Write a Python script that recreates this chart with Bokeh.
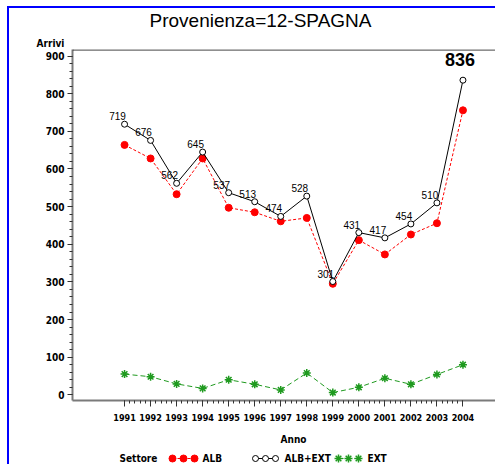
from bokeh.plotting import figure
from bokeh.models import Range1d, FixedTicker, LinearAxis, ColumnDataSource, Span
from bokeh.layouts import column
from bokeh.core.properties import value
from bokeh.embed import file_html
from bokeh.resources import INLINE

years = [1991, 1992, 1993, 1994, 1995, 1996, 1997, 1998, 1999, 2000, 2001, 2002, 2003, 2004]
alb_ext = [719, 676, 562, 645, 537, 513, 474, 528, 301, 431, 417, 454, 510, 836]
alb = [664, 628, 533, 628, 497, 485, 461, 470, 295, 411, 373, 426, 456, 756]
ext = [55, 48, 29, 17, 40, 28, 13, 58, 6, 20, 44, 28, 54, 80]
y_ticks = [0, 100, 200, 300, 400, 500, 600, 700, 800, 900]
title_text = "Provenienza=12-SPAGNA"
y_label = "Arrivi"
x_label = "Anno"
legend_title = "Settore"
series_names = ["ALB", "ALB+EXT", "EXT"]

COND = "DejaVu Sans Condensed"
SANS = "Liberation Sans"
RED = "#ff0000"
GREEN = "#1f9a1f"
AXIS = "#7a7a7a"

# ---------------- header strip (page-pixel coordinates) ----------------
hd = figure(width=486, height=41, output_backend="svg", toolbar_location=None,
            x_range=Range1d(9, 495), y_range=Range1d(49, 8),
            min_border=0, x_axis_type=None, y_axis_type=None)
hd.frame_align = False
hd.outline_line_color = None
hd.xgrid.visible = False
hd.ygrid.visible = False
hd.text(x=[260], y=[20], text=[title_text], text_align="center", text_baseline="middle",
        text_font=value(SANS), text_font_size="19px", text_color="black")
hd.text(x=[50], y=[48.7], text=[y_label], text_align="center", text_baseline="bottom",
        text_font=value(COND), text_font_style="bold", text_font_size="10px", text_color="black")

# ---------------- main plot ----------------
p = figure(width=486, height=381, output_backend="svg", toolbar_location=None,
           x_range=Range1d(1989.0, 2005.25), y_range=Range1d(-15.1, 917.5),
           min_border_left=63, min_border_top=0, min_border_bottom=30,
           min_border_right=0, x_axis_type=None, y_axis_type=None)
p.frame_align = False
p.outline_line_color = None

minor_x = [1991 + i * 0.2 for i in range(0, 66)]
xaxis = LinearAxis(ticker=FixedTicker(ticks=years, minor_ticks=minor_x))
xaxis.axis_line_color = AXIS
xaxis.axis_line_width = 2
xaxis.major_tick_line_color = "#333333"
xaxis.minor_tick_line_color = "#333333"
xaxis.major_tick_out = 6
xaxis.major_tick_in = 0
xaxis.minor_tick_out = 3
xaxis.minor_tick_in = 0
xaxis.major_label_text_font = COND
xaxis.major_label_text_font_style = "bold"
xaxis.major_label_text_font_size = "9px"
xaxis.major_label_text_color = "black"
xaxis.major_label_standoff = 7
p.add_layout(xaxis, "below")

minor_y = list(range(0, 901, 20))
yaxis = LinearAxis(ticker=FixedTicker(ticks=y_ticks, minor_ticks=minor_y))
yaxis.axis_line_color = AXIS
yaxis.axis_line_width = 2
yaxis.major_tick_line_color = "#333333"
yaxis.minor_tick_line_color = "#333333"
yaxis.major_tick_out = 5
yaxis.major_tick_in = 0
yaxis.minor_tick_out = 3
yaxis.minor_tick_in = 0
yaxis.major_label_text_font = COND
yaxis.major_label_text_font_style = "bold"
yaxis.major_label_text_font_size = "10px"
yaxis.major_label_text_color = "black"
yaxis.major_label_standoff = 3
p.add_layout(yaxis, "left")

p.add_layout(Span(location=916.3, dimension="width", line_color="black", line_width=1))

p.ygrid.ticker = FixedTicker(ticks=y_ticks)
p.xgrid.visible = False
p.ygrid.grid_line_color = "black"
p.ygrid.grid_line_dash = "1 7"
p.ygrid.grid_line_width = 1

src = ColumnDataSource(dict(x=years, alb=alb, tot=alb_ext, ext=ext))

p.line("x", "ext", source=src, line_color=GREEN, line_dash="5 3", line_width=1)
p.scatter("x", "ext", source=src, marker="asterisk", size=8, line_color=GREEN, line_width=1.5)
p.line("x", "alb", source=src, line_color=RED, line_dash="3 2", line_width=1)
p.scatter("x", "alb", source=src, marker="circle", size=7, fill_color=RED, line_color=RED)
p.line("x", "tot", source=src, line_color="black", line_width=1)
p.scatter("x", "tot", source=src, marker="circle", size=6, fill_color="white",
          line_color="black", line_width=1)

imax = alb_ext.index(max(alb_ext))
idx = [i for i in range(len(years)) if i != imax]
small = dict(x=[years[i] for i in idx], y=[alb_ext[i] for i in idx],
             t=[str(alb_ext[i]) for i in idx])
p.text("x", "y", "t", source=ColumnDataSource(small), x_offset=-7, y_offset=-8,
       text_align="center", text_baseline="middle", text_font=value(SANS),
       text_font_size="10px", text_color="black")
p.text(x=[years[imax]], y=[alb_ext[imax]], text=[str(alb_ext[imax])], x_offset=-3, y_offset=-21,
       text_align="center", text_baseline="middle", text_font=value(SANS),
       text_font_style="bold", text_font_size="18px", text_color="black")

# ---------------- footer strip: axis title + legend (page-pixel coordinates) ----------------
ft = figure(width=486, height=34, output_backend="svg", toolbar_location=None,
            x_range=Range1d(9, 495), y_range=Range1d(464, 430),
            min_border=0, x_axis_type=None, y_axis_type=None)
ft.frame_align = False
ft.outline_line_color = None
ft.xgrid.visible = False
ft.ygrid.visible = False
ft.text(x=[293], y=[439], text=[x_label], text_align="center", text_baseline="middle",
        text_font=value(COND), text_font_style="bold", text_font_size="10px")
ly = 458
ft.text(x=[119], y=[ly], text=[legend_title], text_baseline="middle", text_font=value(COND),
        text_font_style="bold", text_font_size="10px")
lx = [172, 183, 194]
ft.line(lx, [ly] * 3, line_color=RED, line_dash="3 2")
ft.scatter(lx, [ly] * 3, size=7, fill_color=RED, line_color=RED)
ft.text(x=[202], y=[ly], text=[series_names[0]], text_baseline="middle", text_font=value(COND),
        text_font_style="bold", text_font_size="10px")
lx = [255, 265, 275]
ft.line(lx, [ly] * 3, line_color="black")
ft.scatter(lx, [ly] * 3, size=6, fill_color="white", line_color="black")
ft.text(x=[284], y=[ly], text=[series_names[1]], text_baseline="middle", text_font=value(COND),
        text_font_style="bold", text_font_size="10px")
lx = [338, 348, 358]
ft.line(lx, [ly] * 3, line_color=GREEN, line_dash="5 3")
ft.scatter(lx, [ly] * 3, marker="asterisk", size=8, line_color=GREEN, line_width=1.5)
ft.text(x=[367], y=[ly], text=[series_names[2]], text_baseline="middle", text_font=value(COND),
        text_font_style="bold", text_font_size="10px")

layout = column(hd, p, ft, spacing=0)
layout.styles = {"margin-left": "7px", "margin-top": "6px",
                 "border-top": "2px solid #0000ff", "border-left": "2px solid #0000ff"}

open("out.html", "w").write(file_html(layout, INLINE))
